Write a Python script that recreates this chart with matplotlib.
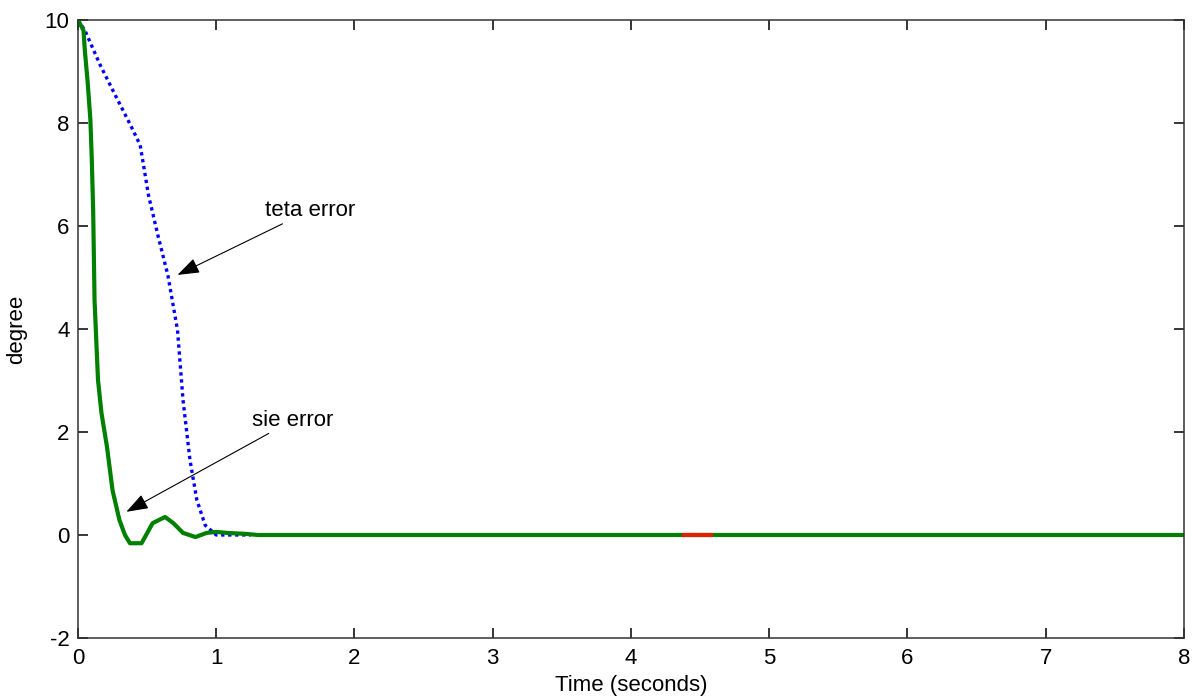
import numpy as np
import matplotlib.pyplot as plt
import matplotlib as mpl

mpl.rcParams['font.family'] = ['Liberation Sans', 'DejaVu Sans']
mpl.rcParams['axes.unicode_minus'] = False
mpl.rcParams['xtick.direction'] = 'in'
mpl.rcParams['ytick.direction'] = 'in'
mpl.rcParams['xtick.top'] = True
mpl.rcParams['ytick.right'] = True

# teta error (blue dotted)
teta_t = [0.0, 0.05, 0.16, 0.27, 0.38, 0.45, 0.48, 0.51, 0.58, 0.65, 0.72, 0.76,
          0.81, 0.86, 0.92, 1.0, 1.25]
teta_v = [10.0, 9.8, 9.13, 8.54, 7.96, 7.57, 7.09, 6.6, 5.8, 5.05, 3.98, 2.62,
          1.46, 0.68, 0.19, 0.0, 0.0]

# sie error (green solid)
sie_t = [0.0, 0.04, 0.05, 0.07, 0.09, 0.10, 0.11, 0.12, 0.145, 0.17, 0.21, 0.25,
         0.30, 0.34, 0.376, 0.46, 0.54, 0.63, 0.69, 0.76, 0.85, 0.93, 1.0, 1.08,
         1.22, 1.3, 8.0]
sie_v = [10.0, 9.8, 9.4, 8.8, 8.06, 7.3, 6.3, 4.56, 3.01, 2.37, 1.71, 0.87,
         0.29, 0.0, -0.16, -0.16, 0.23, 0.35, 0.23, 0.04, -0.04, 0.04, 0.06, 0.04,
         0.02, 0.0, 0.0]

# short red piece on the zero line
red_t = [4.38, 4.58]
red_v = [0.0, 0.0]

fig = plt.figure(figsize=(11.92, 7.0), dpi=100)
ax = fig.add_axes([0.0654, 0.0886, 0.9279, 0.8828])

ax.plot(teta_t, teta_v, color='#0000ff', lw=2.4, linestyle=(0, (1.0, 1.1)))
ax.plot(sie_t, sie_v, color='#008000', lw=3.0)
ax.plot(red_t, red_v, color='#dd2200', lw=3.0)

ax.set_xlim(0, 8)
ax.set_ylim(-2, 10)
ax.set_xticks(range(0, 9))
ax.set_yticks(range(-2, 11, 2))
ax.tick_params(length=7, width=1.1, labelsize=16)
ax.tick_params(axis='x', pad=7.5)
ax.tick_params(axis='y', pad=6)
for sp in ax.spines.values():
    sp.set_linewidth(1.1)
    sp.set_color('#333333')

ax.set_xlabel("Time (seconds)", fontsize=16, labelpad=4)
ax.set_ylabel("degree", fontsize=16, labelpad=13)

arr = dict(arrowstyle='-|>,head_length=0.45,head_width=0.16', color='k',
           lw=0.8, mutation_scale=30, shrinkA=0, shrinkB=0)
ax.annotate("teta error", xy=(0.72, 5.05), xytext=(1.35, 6.3),
            fontsize=16, ha='left', va='center', arrowprops=arr)
ax.annotate("sie error", xy=(0.35, 0.45), xytext=(1.26, 2.23),
            fontsize=16, ha='left', va='center', arrowprops=arr)

plt.savefig("out.png", dpi=100)
